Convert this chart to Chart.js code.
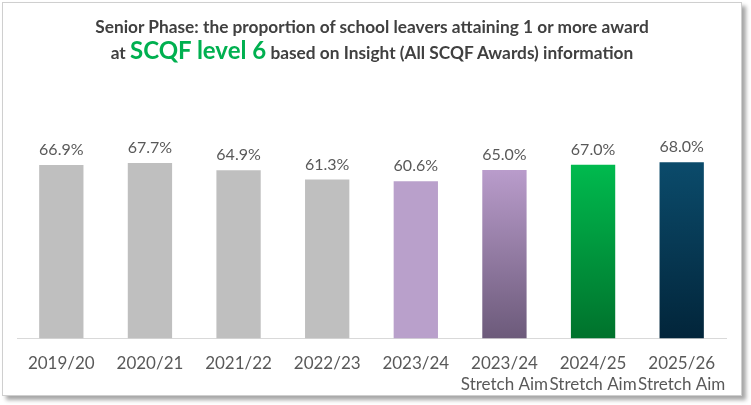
<!DOCTYPE html>
<html>
<head>
<meta charset="utf-8">
<script src="https://cdn.jsdelivr.net/npm/chart.js@4"></script>
<style>
  body { margin: 0; background: #ffffff; }
  #box {
    position: absolute; left: 2px; top: 2px; width: 738px; height: 392px;
    border: 1px solid #cfcfcf; background: #fff;
    box-shadow: 4px 4px 4px rgba(0,0,0,0.35);
  }
  #title {
    position: absolute; left: 0; top: 11px; width: 738px; text-align: center;
    font-family: Lato, sans-serif; font-weight: bold; color: #404040;
    font-size: 17.3px; line-height: 26px;
  }
  #title .big { color: #00B050; font-size: 24px; line-height: 0; }
  #chartWrap { position: absolute; left: 0; top: 0; width: 738px; height: 399px; }
</style>
</head>
<body>
<div id="box">
  <div id="chartWrap"><canvas id="chart"></canvas></div>
  <div id="title">Senior Phase: the proportion of school leavers attaining 1 or more award<br>at <span class="big">SCQF level 6</span> based on Insight (All SCQF Awards) information</div>
</div>
<script>
const years = ["2019/20", "2020/21", "2021/22", "2022/23", "2023/24", "2023/24", "2024/25", "2025/26"]
const subLabels = ["", "", "", "", "", "Stretch Aim", "Stretch Aim", "Stretch Aim"]
const values = [66.9, 67.7, 64.9, 61.3, 60.6, 65.0, 67.0, 68.0]
const topColors = ["#BFBFBF", "#BFBFBF", "#BFBFBF", "#BFBFBF", "#B9A0CB", "#B99CCB", "#00BA4E", "#0B4B6B"]
const bottomColors = ["#BFBFBF", "#BFBFBF", "#BFBFBF", "#BFBFBF", "#B9A0CB", "#6C5A7A", "#00722C", "#02253A"]

const labels = years.map((y, i) => subLabels[i] ? [y, subLabels[i]] : y)

function barFill(ctx) {
  const chart = ctx.chart
  const i = ctx.dataIndex
  if (!chart.chartArea || !chart.scales.y) return topColors[i]
  if (topColors[i] === bottomColors[i]) return topColors[i]
  const top = chart.scales.y.getPixelForValue(values[i])
  const bottom = chart.scales.y.getPixelForValue(0)
  const g = chart.ctx.createLinearGradient(0, top, 0, bottom)
  g.addColorStop(0, topColors[i])
  g.addColorStop(1, bottomColors[i])
  return g
}

const valueLabels = {
  id: "valueLabels",
  afterDatasetsDraw(chart) {
    const c = chart.ctx
    const meta = chart.getDatasetMeta(0)
    c.save()
    c.font = "16px Lato, sans-serif"
    c.fillStyle = "#595959"
    c.textAlign = "center"
    c.textBaseline = "middle"
    meta.data.forEach((bar, i) => {
      c.fillText(values[i].toFixed(1) + "%", bar.x, bar.y - 15)
    })
    c.restore()
  }
}

new Chart(document.getElementById("chart"), {
  type: "bar",
  data: {
    labels: labels,
    datasets: [{
      data: values,
      backgroundColor: barFill,
      borderWidth: 0,
      categoryPercentage: 1,
      barPercentage: 0.5
    }]
  },
  options: {
    responsive: true,
    maintainAspectRatio: false,
    animation: false,
    layout: { padding: { left: 14, right: 15, top: 128, bottom: 1 } },
    plugins: { legend: { display: false }, tooltip: { enabled: false } },
    scales: {
      x: {
        grid: { display: false },
        border: { display: true, color: "#D9D9D9", width: 1 },
        ticks: {
          color: "#595959",
          font: { family: "Lato, sans-serif", size: 17, lineHeight: 1.25 },
          padding: 6,
          maxRotation: 0,
          autoSkip: false
        }
      },
      y: {
        display: false,
        min: 0,
        max: 80
      }
    }
  },
  plugins: [valueLabels]
})
</script>
</body>
</html>
